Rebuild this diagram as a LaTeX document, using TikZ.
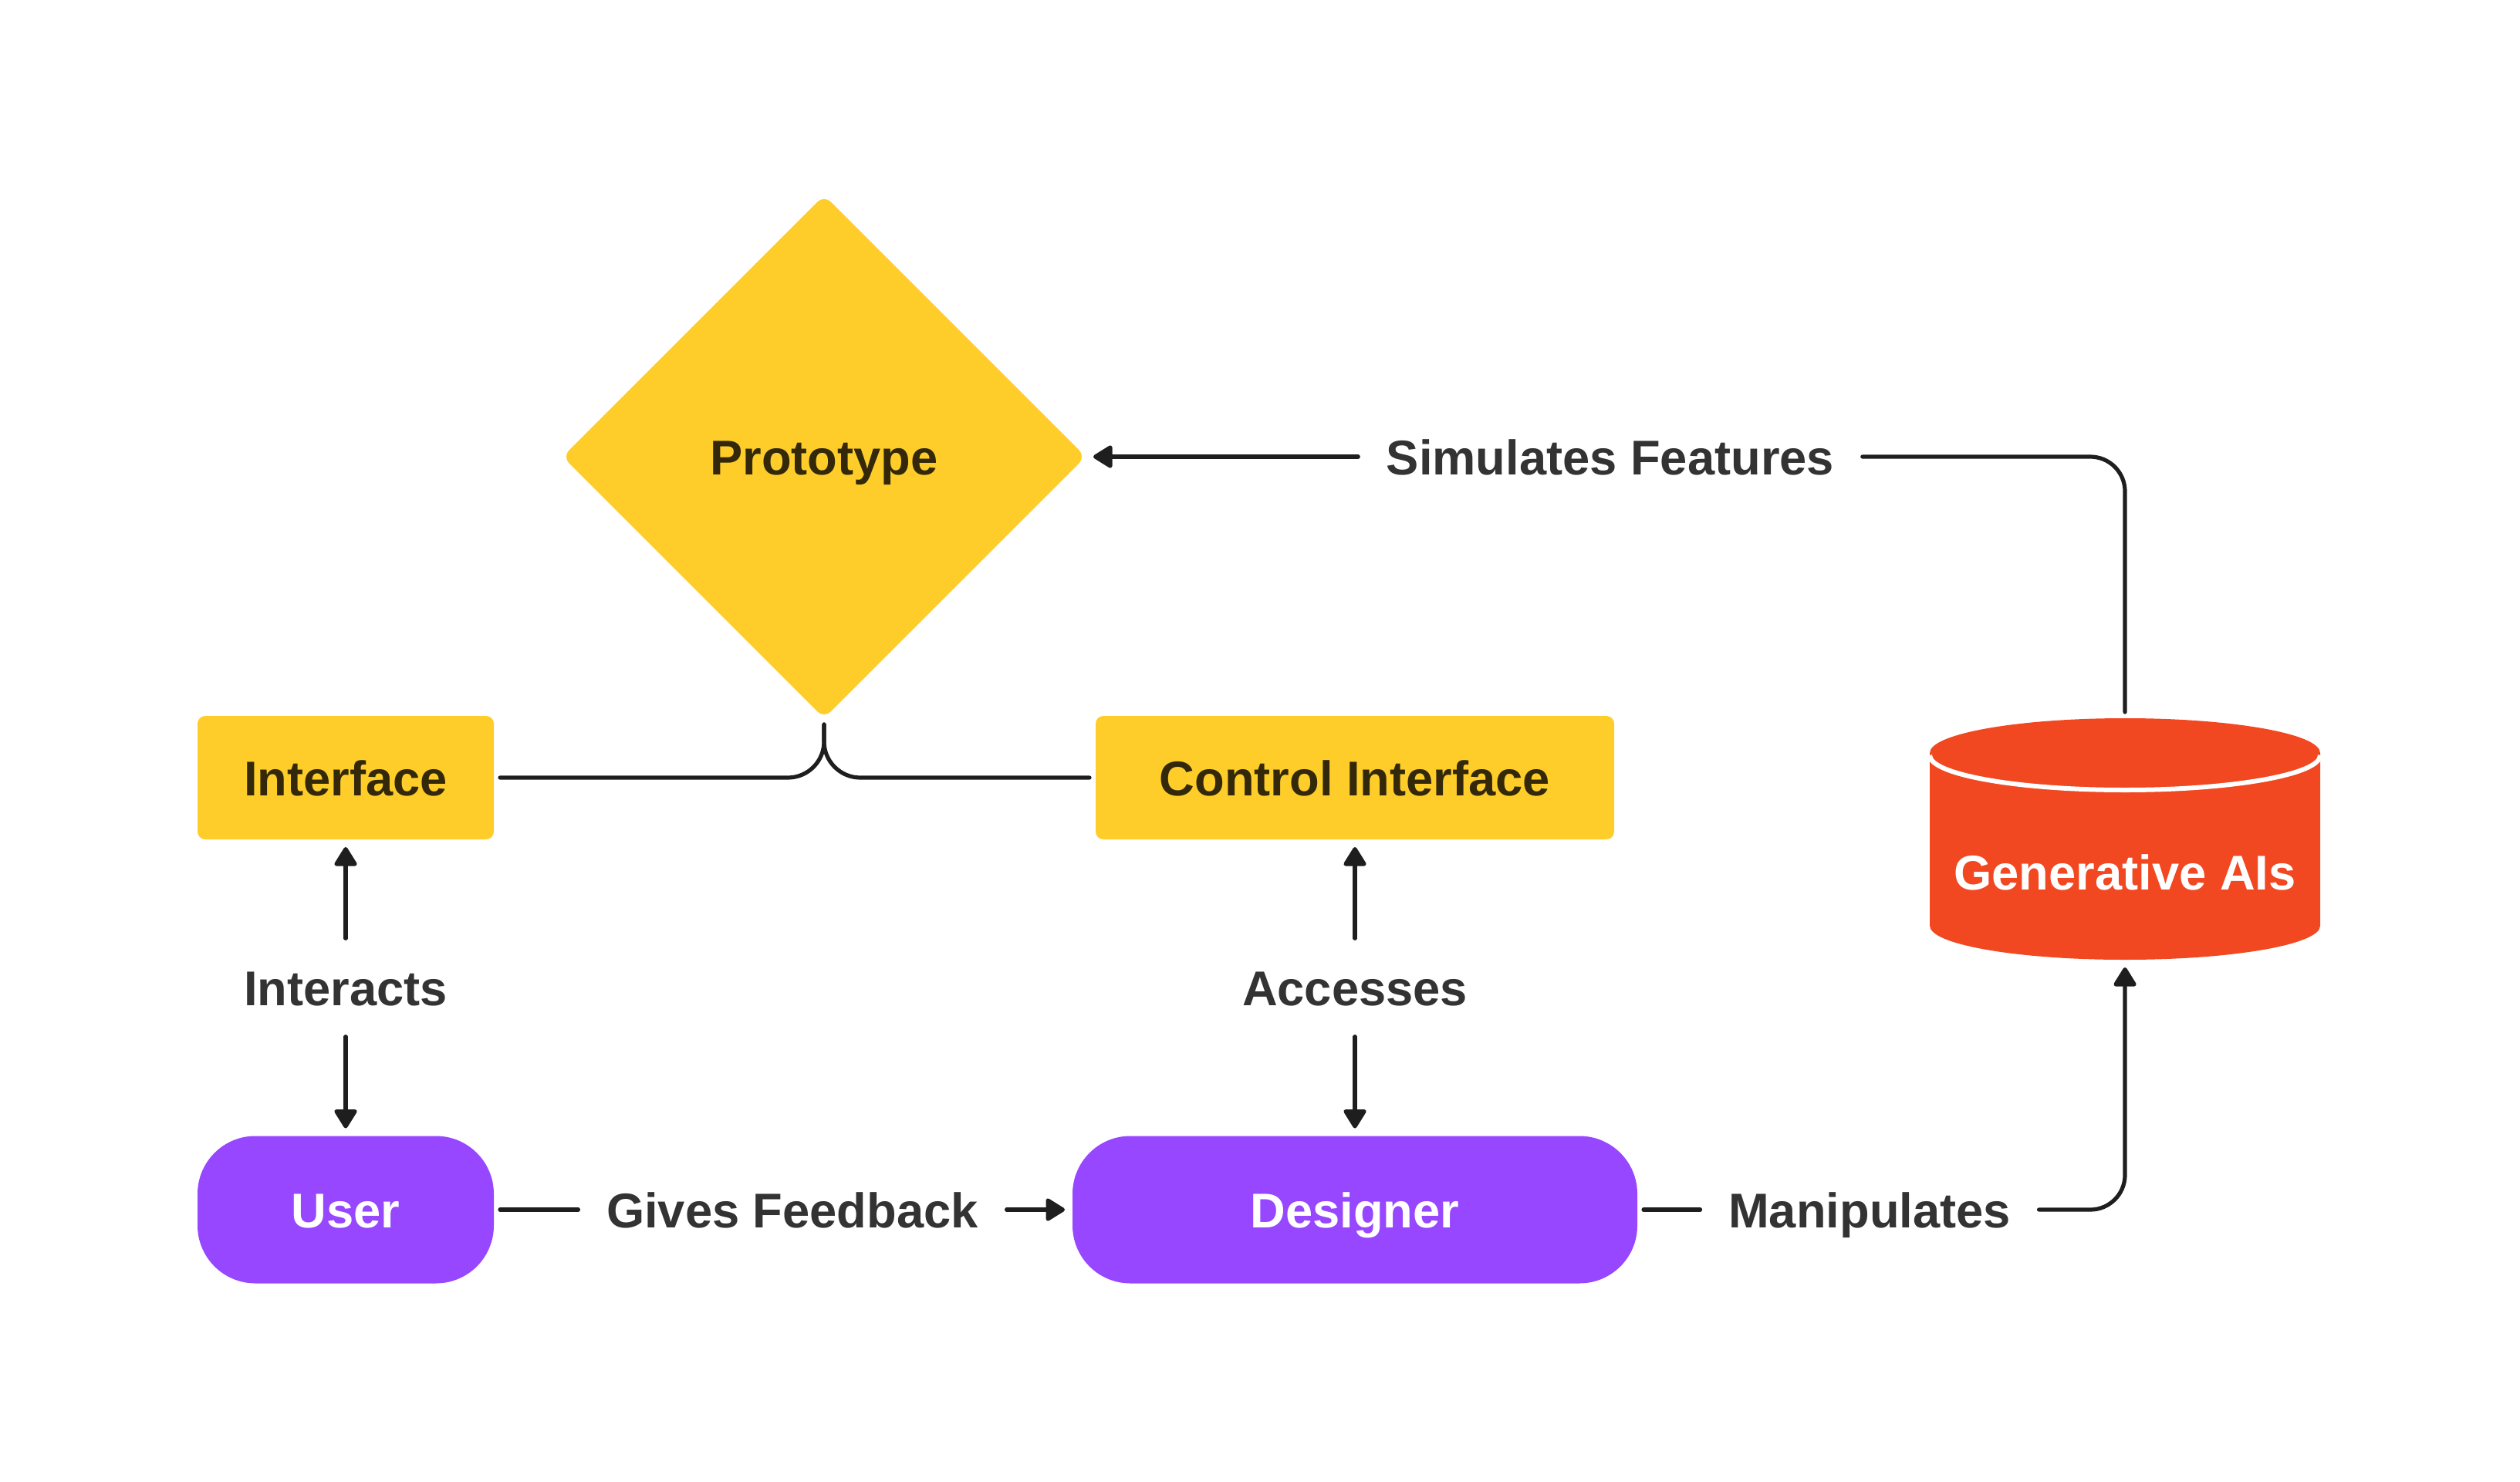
\documentclass[tikz,border=0pt]{standalone}
\usepackage{fontspec}
\setmainfont{Liberation Sans}
\usetikzlibrary{shapes.geometric,arrows.meta}
\definecolor{protoyellow}{HTML}{FFCD29}
\definecolor{rolepurple}{HTML}{9747FF}
\definecolor{genred}{HTML}{F24822}
\definecolor{linegray}{HTML}{1E1E1E}
\definecolor{lbltext}{HTML}{333333}
\definecolor{darktext}{HTML}{33290A}
\begin{document}
\begin{tikzpicture}[
   every node/.style={font=\fontsize{18pt}{22pt}\selectfont\bfseries, text height=0.46cm, text depth=0pt},
   yellowbox/.style={rectangle, fill=protoyellow, text=darktext, rounded corners=0.1cm, minimum height=1.6cm, inner sep=0pt, outer sep=0pt},
   rolebox/.style={rectangle, fill=rolepurple, text=white, rounded corners=0.75cm, minimum height=1.91cm, inner sep=0pt, outer sep=0pt},
   lbl/.style={text=lbltext, inner xsep=0.28cm, inner ysep=0.32cm},
   link/.style={draw=linegray, line width=0.052cm, line cap=round, shorten <=0.08cm, shorten >=0.08cm},
   flow/.style={link, -{Triangle[width=0.32cm, length=0.27cm, round]}, shorten >=0.1cm}]
   \useasboundingbox (0,0) rectangle (32.66,-19.20);
   \node[diamond, fill=protoyellow, text=darktext, minimum width=6.78cm, minimum height=6.78cm, inner sep=0pt, outer sep=0pt, rounded corners=0.12cm] (proto) at (10.68,-5.92) {Prototype};
   \node[yellowbox, minimum width=3.84cm] (iface) at (4.48,-10.08) {Interface};
   \node[yellowbox, minimum width=6.72cm] (ciface) at (17.56,-10.08) {Control Interface};
   \node[rolebox, minimum width=3.84cm] (user) at (4.48,-15.68) {User};
   \node[rolebox, minimum width=7.32cm] (designer) at (17.56,-15.68) {Designer};
   \fill[genred] (25.01,-9.76) -- (25.01,-12.00) arc[start angle=180, end angle=360, x radius=2.53cm, y radius=0.44cm] -- (30.07,-9.76) arc[start angle=0, end angle=180, x radius=2.53cm, y radius=0.45cm] -- cycle;
   \draw[white, line width=0.06cm] (25.01,-9.79) arc[start angle=180, end angle=360, x radius=2.53cm, y radius=0.45cm];
   \node[text=white] (gen) at (27.54,-11.30) {Generative AIs};
   \coordinate (gentop) at (27.54,-9.31);
   \coordinate (genbot) at (27.54,-12.44);
   \node[lbl] (ilbl) at (4.48,-12.80) {Interacts};
   \node[lbl] (albl) at (17.56,-12.80) {Accesses};
   \node[lbl] (gflbl) at (10.27,-15.68) {Gives Feedback};
   \node[lbl] (mlbl) at (24.23,-15.68) {Manipulates};
   \node[lbl] (sflbl) at (20.87,-5.92) {Simulates Features};
   \draw[link, rounded corners=0.47cm] (iface.east) -| (proto.south);
   \draw[link, rounded corners=0.47cm] (ciface.west) -| (proto.south);
   \draw[flow] (ilbl.north) -- (iface.south);
   \draw[flow] (ilbl.south) -- (user.north);
   \draw[flow] (albl.north) -- (ciface.south);
   \draw[flow] (albl.south) -- (designer.north);
   \draw[link] (user.east) -- (gflbl.west);
   \draw[flow] (gflbl.east) -- (designer.west);
   \draw[link] (designer.east) -- (mlbl.west);
   \draw[flow, rounded corners=0.45cm] (mlbl.east) -| (genbot);
   \draw[link, rounded corners=0.45cm] (gentop) |- (sflbl.east);
   \draw[flow] (sflbl.west) -- (proto.east);
\end{tikzpicture}
\end{document}
